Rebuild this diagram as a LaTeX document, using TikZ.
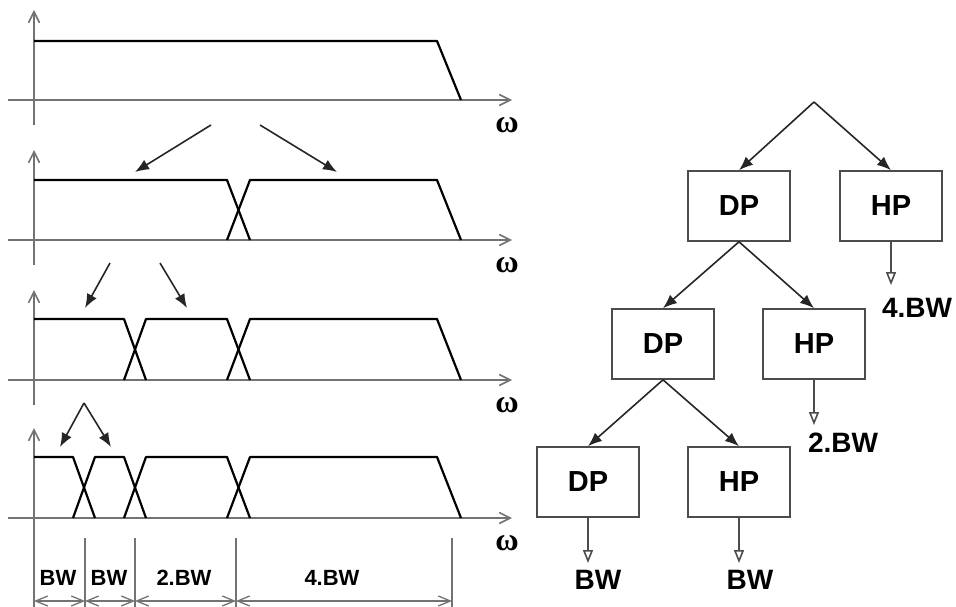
\documentclass[tikz,border=0pt]{standalone}
\usepackage{amsmath}
\usepackage{fontspec}
\setmainfont{Liberation Sans}
\newfontfamily\omfont{Liberation Serif}
\usetikzlibrary{arrows.meta}

\begin{document}
\begin{tikzpicture}[x=1pt,y=-1pt,
    axis/.style={draw=black!55,line width=1.6pt,-{Straight Barb[length=11pt,width=11pt]}},
    band/.style={line width=2.2pt,line join=round},
    split/.style={draw=black!85,line width=1.6pt,-{Latex[length=14pt,width=11pt]}},
    filter/.style={draw=black!70,line width=1.6pt,minimum width=102pt,minimum height=70pt,
            inner sep=0pt,font=\fontsize{29}{29}\selectfont\bfseries},
    outarrow/.style={draw=black!70,line width=1.6pt,-{Triangle[open,length=13pt,width=10pt]}},
    bw/.style={inner sep=0pt,anchor=north,font=\fontsize{28}{28}\selectfont\bfseries},
    dim/.style={draw=black!55,line width=1.3pt,
            {Straight Barb[length=12pt,width=10pt]}-{Straight Barb[length=12pt,width=10pt]}},
    dimlabel/.style={inner sep=0pt,font=\fontsize{22}{22}\selectfont\bfseries}]
    \useasboundingbox (0,0) rectangle (956,607);

    % spectra
    \foreach \b [count=\i] in {100,240,380,518} {
        \draw[axis] (8,\b) -- (512,\b);
        \node (om\i) at (507,\b+25) {\fontsize{32}{32}\omfont\bfseries ω};
    }
    \foreach \b in {100,240,380}
        \draw[axis] (34,\b+25) -- (34,\b-90);
    \draw[axis] (34,607) -- (34,428);

    \draw[band] (34,41) -- (437,41) -- (461,100);

    \draw[band] (34,180) -- (227,180) -- (250,240);
    \draw[band] (227,240) -- (250,180) -- (437,180) -- (461,240);

    \draw[band] (34,319) -- (124,319) -- (146,380);
    \draw[band] (124,380) -- (146,319) -- (227,319) -- (250,380);
    \draw[band] (227,380) -- (250,319) -- (437,319) -- (461,380);

    \draw[band] (34,457) -- (73,457) -- (95,518);
    \draw[band] (73,518) -- (95,457) -- (124,457) -- (146,518);
    \draw[band] (124,518) -- (146,457) -- (227,457) -- (250,518);
    \draw[band] (227,518) -- (250,457) -- (437,457) -- (461,518);

    \draw[split] (211,125) -- (135,172);
    \draw[split] (260,125) -- (337,172);
    \draw[split] (110,263) -- (85,308);
    \draw[split] (160,263) -- (187,308);
    \draw[split] (84,403) -- (60,447);
    \draw[split] (84,403) -- (111,447);

    % bandwidths
    \foreach \x in {85,135,236,452}
        \draw[draw=black!55,line width=1.3pt] (\x,538) -- (\x,607);
    \draw[dim] (34,601) -- (85,601);
    \draw[dim] (85,601) -- (135,601);
    \draw[dim] (135,601) -- (236,601);
    \draw[dim] (236,601) -- (452,601);
    \node[dimlabel] (l1) at (58,578) {BW};
    \node[dimlabel] (l2) at (109,578) {BW};
    \node[dimlabel] (l3) at (184,578) {2.BW};
    \node[dimlabel] (l4) at (332,578) {4.BW};

    % filter tree
    \coordinate (root) at (814,102);
    \node[filter] (dp1) at (739,206) {DP};
    \node[filter] (hp1) at (891,206) {HP};
    \node[filter] (dp2) at (663,344) {DP};
    \node[filter] (hp2) at (814,344) {HP};
    \node[filter] (dp3) at (588,482) {DP};
    \node[filter] (hp3) at (739,482) {HP};

    \draw[split] (root) -- (dp1.north);
    \draw[split] (root) -- (hp1.north);
    \draw[split] (dp1.south) -- (dp2.north);
    \draw[split] (dp1.south) -- (hp2.north);
    \draw[split] (dp2.south) -- (dp3.north);
    \draw[split] (dp2.south) -- (hp3.north);

    \node[bw] (bw4) at (917,298) {4.BW};
    \node[bw] (bw2) at (843,433) {2.BW};
    \node[bw] (bw1a) at (598,570) {BW};
    \node[bw] (bw1b) at (750,570) {BW};

    \draw[outarrow,shorten >=13pt] (hp1.south) -- (hp1.south |- bw4.north);
    \draw[outarrow,shorten >=8pt] (hp2.south) -- (hp2.south |- bw2.north);
    \draw[outarrow,shorten >=7pt] (dp3.south) -- (dp3.south |- bw1a.north);
    \draw[outarrow,shorten >=7pt] (hp3.south) -- (hp3.south |- bw1b.north);
\end{tikzpicture}
\end{document}
